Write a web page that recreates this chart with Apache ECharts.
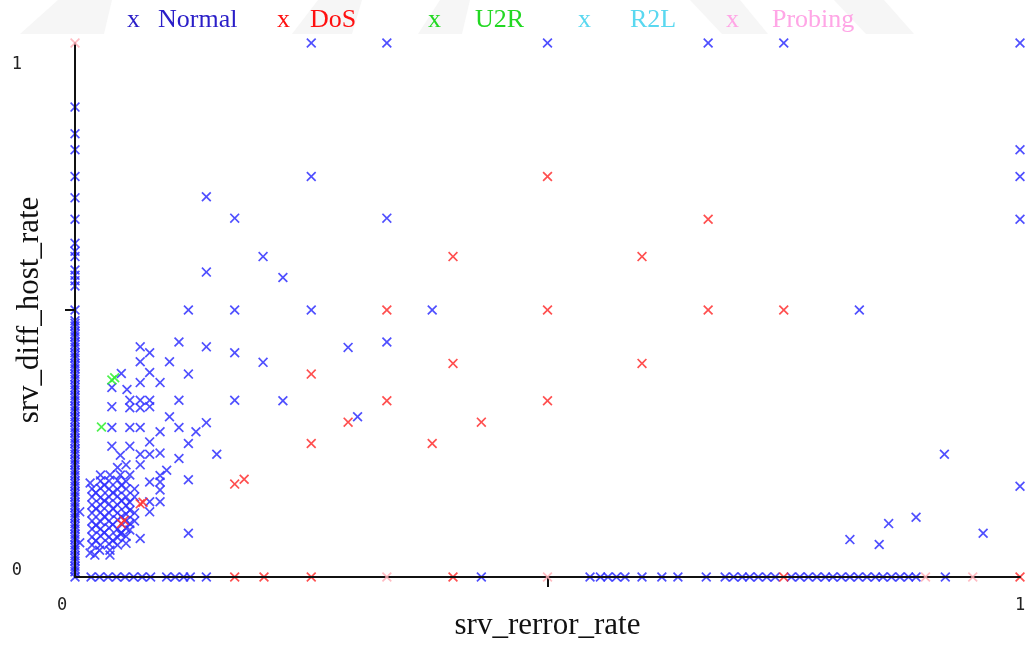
<!DOCTYPE html>
<html>
<head>
<meta charset="utf-8">
<script src="https://cdn.jsdelivr.net/npm/echarts@6/dist/echarts.min.js"></script>
<style>
  html, body { margin: 0; padding: 0; background: #fff; }
  #chart { width: 1034px; height: 645px; }
</style>
</head>
<body>
<div id="chart"></div>
<script>
// Class names, in legend order
const seriesNames = ['Normal', 'DoS', 'U2R', 'R2L', 'Probing'];

// Axis titles and tick labels
const xTitle = 'srv_rerror_rate';
const yTitle = 'srv_diff_host_rate';
const tickValues = [0, 1];
const tickLabels = ['0', '1'];
const tickMarks = [0.5];

// Normal: srv_diff_host_rate values of records with srv_rerror_rate = 0
const normalLeftEdgeY = [0.88, 0.83, 0.8, 0.75, 0.71, 0.67, 0.625, 0.61, 0.6, 0.575, 0.565, 0.555, 0.545, 0.5,
  0.48, 0.475, 0.47, 0.46, 0.455, 0.45, 0.44, 0.435, 0.43, 0.42, 0.415, 0.41, 0.4, 0.395, 0.39, 0.38, 0.375,
  0.37, 0.36, 0.355, 0.35, 0.34, 0.335, 0.33, 0.32, 0.315, 0.31, 0.3, 0.295, 0.29, 0.28, 0.275, 0.27, 0.26,
  0.255, 0.25, 0.24, 0.235, 0.23, 0.22, 0.215, 0.21, 0.2, 0.195, 0.19, 0.18, 0.175, 0.17, 0.16, 0.155, 0.15,
  0.14, 0.135, 0.13, 0.12, 0.115, 0.11, 0.1, 0.095, 0.09, 0.08, 0.075, 0.07, 0.06, 0.055, 0.05, 0.04, 0.035,
  0.03, 0.02, 0.015, 0.01, 0];

// Normal: srv_rerror_rate values of records with srv_diff_host_rate = 0
const normalBaseX = [0.017, 0.026, 0.035, 0.044, 0.053, 0.062, 0.071, 0.08, 0.097, 0.106, 0.115, 0.122, 0.139,
  0.43, 0.545, 0.556, 0.564, 0.573, 0.582, 0.6, 0.621, 0.638, 0.668,
  0.688, 0.697, 0.706, 0.714, 0.723, 0.732, 0.741, 0.758, 0.767, 0.776, 0.785, 0.794, 0.802, 0.811, 0.82,
  0.829, 0.838, 0.847, 0.855, 0.864, 0.873, 0.882, 0.89, 0.921];

// Normal: remaining records [srv_rerror_rate, srv_diff_host_rate]
const normalPoints = [
  [0.25, 1], [0.33, 1], [0.5, 1], [0.67, 1], [0.75, 1], [1, 1],
  [1, 0.8], [1, 0.75], [1, 0.67], [1, 0.17],
  [0.25, 0.75], [0.139, 0.712], [0.169, 0.672], [0.33, 0.672], [0.199, 0.6], [0.139, 0.571], [0.22, 0.561],
  [0.12, 0.5], [0.169, 0.5], [0.25, 0.5], [0.378, 0.5], [0.83, 0.5],
  [0.289, 0.43], [0.33, 0.44], [0.199, 0.402], [0.22, 0.33], [0.299, 0.3],
  [0.92, 0.23], [0.89, 0.112], [0.861, 0.1], [0.961, 0.082], [0.82, 0.07], [0.851, 0.061],
  [0.11, 0.44], [0.069, 0.431], [0.079, 0.42], [0.139, 0.431], [0.169, 0.42], [0.069, 0.403], [0.1, 0.403],
  [0.079, 0.383], [0.12, 0.38], [0.049, 0.381], [0.069, 0.364], [0.09, 0.364], [0.039, 0.355], [0.055, 0.351],
  [0.069, 0.331], [0.079, 0.331], [0.058, 0.331], [0.11, 0.331], [0.169, 0.331], [0.039, 0.319], [0.058, 0.317],
  [0.069, 0.317], [0.079, 0.319], [0.1, 0.3], [0.139, 0.289], [0.039, 0.28], [0.058, 0.28], [0.069, 0.28],
  [0.09, 0.272], [0.11, 0.28], [0.128, 0.272], [0.12, 0.25], [0.079, 0.253], [0.039, 0.245], [0.058, 0.245],
  [0.15, 0.23], [0.048, 0.228], [0.069, 0.23], [0.079, 0.23], [0.09, 0.232], [0.11, 0.222], [0.069, 0.21],
  [0.097, 0.2], [0.12, 0.182], [0.09, 0.19], [0.079, 0.178], [0.09, 0.178], [0.09, 0.163], [0.016, 0.176],
  [0.09, 0.141], [0.079, 0.141], [0.058, 0.125], [0.079, 0.122], [0.005, 0.122], [0.058, 0.088], [0.048, 0.081],
  [0.069, 0.072], [0.12, 0.082], [0.037, 0.05], [0.026, 0.05], [0.016, 0.045], [0.005, 0.064], [0.021, 0.041],
  [0.037, 0.041], [0.058, 0.191], [0.027, 0.191], [0.037, 0.191], [0.048, 0.191],
  [0.018, 0.06], [0.027, 0.06], [0.036, 0.062], [0.045, 0.06], [0.054, 0.063],
  [0.018, 0.075], [0.027, 0.077], [0.036, 0.075], [0.045, 0.074], [0.054, 0.076],
  [0.018, 0.09], [0.027, 0.09], [0.036, 0.092], [0.045, 0.09], [0.054, 0.091],
  [0.018, 0.105], [0.027, 0.104], [0.036, 0.105], [0.045, 0.107], [0.054, 0.105],
  [0.018, 0.12], [0.027, 0.121], [0.036, 0.12], [0.045, 0.12], [0.054, 0.118],
  [0.018, 0.135], [0.027, 0.135], [0.036, 0.137], [0.045, 0.135], [0.054, 0.134],
  [0.018, 0.15], [0.027, 0.149], [0.036, 0.15], [0.045, 0.151], [0.054, 0.15],
  [0.018, 0.165], [0.027, 0.166], [0.036, 0.165], [0.045, 0.164], [0.054, 0.165],
  [0.027, 0.18], [0.036, 0.18], [0.045, 0.181], [0.054, 0.179], [0.063, 0.165], [0.063, 0.15],
  [0.063, 0.105], [0.063, 0.12], [0.045, 0.205], [0.054, 0.21],
  [0.022, 0.068], [0.031, 0.083], [0.04, 0.098], [0.049, 0.113], [0.022, 0.128], [0.031, 0.143],
  [0.04, 0.158], [0.049, 0.172], [0.022, 0.097], [0.04, 0.128], [0.049, 0.143], [0.031, 0.113],
  [0.022, 0.158], [0.04, 0.068], [0.049, 0.083], [0.031, 0.172], [0.058, 0.1], [0.058, 0.14]
];

// DoS records [srv_rerror_rate, srv_diff_host_rate]
const dosPoints = [
  [0.5, 0.75], [0.67, 0.67], [0.4, 0.6], [0.6, 0.6], [0.33, 0.5], [0.5, 0.5], [0.67, 0.5], [0.75, 0.5],
  [0.25, 0.38], [0.4, 0.4], [0.6, 0.4], [0.33, 0.33], [0.5, 0.33], [0.289, 0.29], [0.43, 0.29],
  [0.25, 0.25], [0.378, 0.25], [0.169, 0.174], [0.179, 0.183], [0.069, 0.137], [0.072, 0.14],
  [0.049, 0.1], [0.052, 0.106],
  [0.169, 0], [0.2, 0], [0.25, 0], [0.4, 0], [0.75, 0], [1, 0]
];

// U2R records
const u2rPoints = [[0.039, 0.369], [0.042, 0.373], [0.028, 0.281]];

// R2L records (none in this range)
const r2lPoints = [];

// Probing records
const probingPoints = [[0, 1], [0.33, 0], [0.5, 0], [0.9, 0], [0.95, 0]];

const normalData = normalLeftEdgeY.map(y => [0, y])
  .concat(normalBaseX.map(x => [x, 0]))
  .concat(normalPoints);

const seriesData = [normalData, dosPoints, u2rPoints, r2lPoints, probingPoints];
const markerColors = ['#3030ff', '#ff3030', '#30ee30', '#5ad8f0', '#ffb0b8'];
const legendColors = ['#2a1ec8', '#ff1010', '#22d822', '#5ad8f0', '#ffa6e6'];

// "x" cross used as point marker
const crossSymbol = 'path://M0,1.2L1.2,0L5,3.8L8.8,0L10,1.2L6.2,5L10,8.8L8.8,10L5,6.2L1.2,10L0,8.8L3.8,5Z';

const chart = echarts.init(document.getElementById('chart'), null, { renderer: 'canvas' });

const monoFont = 'DejaVu Sans Mono';
const serifFont = 'Liberation Serif';

// legend row drawn as coloured text: "x" followed by class name
const legendX = [127, 277, 428, 578, 726];
const legendTextX = [158, 310, 475, 630, 772];
const legendGraphics = [];
seriesNames.forEach((name, i) => {
  legendGraphics.push({
    type: 'text', left: legendX[i], top: 7, z: 10,
    style: { text: 'x', fill: legendColors[i], font: '26px "' + serifFont + '"' }
  });
  legendGraphics.push({
    type: 'text', left: legendTextX[i], top: 7, z: 10,
    style: { text: name, fill: legendColors[i], font: '26px "' + serifFont + '"' }
  });
});

// faint background banner shapes along the top edge
const bannerShapes = [
  [[20, 34], [58, 0], [112, 0], [104, 34]],
  [[292, 34], [318, 0], [362, 0], [352, 34]],
  [[418, 34], [440, 0], [470, 0], [462, 34]],
  [[690, 0], [740, 0], [768, 34], [722, 34]],
  [[834, 0], [884, 0], [914, 34], [866, 34]]
];
const bannerGraphics = bannerShapes.map(pts => ({
  type: 'polygon', z: -1, shape: { points: pts }, style: { fill: '#f6f6f6' }
}));

const option = {
  animation: false,
  backgroundColor: '#fff',
  grid: { left: 75, right: 14, top: 43, bottom: 68, containLabel: false, outerBoundsMode: 'none' },
  xAxis: {
    type: 'value', min: 0, max: 1, interval: 0.5, z: 5,
    name: xTitle, nameLocation: 'middle', nameGap: 33, nameMoveOverlap: false,
    nameTextStyle: { fontFamily: serifFont, fontSize: 31, color: '#111' },
    axisLine: { show: true, onZero: false, lineStyle: { color: '#111', width: 2 } },
    axisTick: { show: true, customValues: tickMarks, length: 10, inside: false, lineStyle: { color: '#111', width: 2 } },
    axisLabel: {
      customValues: tickValues, margin: 20,
      formatter: v => (v === 0 ? '{lo|' : '{hi|') + tickLabels[tickValues.indexOf(v)] + '}',
      rich: {
        lo: { fontFamily: monoFont, fontSize: 17, color: '#222', padding: [0, 26, 0, 0] },
        hi: { fontFamily: monoFont, fontSize: 17, color: '#222' }
      }
    },
    splitLine: { show: false }
  },
  yAxis: {
    type: 'value', min: 0, max: 1, interval: 0.5, z: 5,
    name: yTitle, nameLocation: 'middle', nameGap: 30, nameRotate: 90, nameMoveOverlap: false,
    nameTextStyle: { fontFamily: serifFont, fontSize: 31, color: '#111' },
    axisLine: { show: true, onZero: false, lineStyle: { color: '#111', width: 2 } },
    axisTick: { show: true, customValues: tickMarks, length: 10, lineStyle: { color: '#111', width: 2 } },
    axisLabel: {
      customValues: tickValues, margin: 53,
      formatter: v => (v === 0 ? '{lo|' : '{hi|') + tickLabels[tickValues.indexOf(v)] + '}',
      rich: {
        lo: { fontFamily: monoFont, fontSize: 17, color: '#222', padding: [0, 0, 12, 0] },
        hi: { fontFamily: monoFont, fontSize: 17, color: '#222', padding: [43, 0, 0, 0] }
      }
    },
    splitLine: { show: false }
  },
  graphic: bannerGraphics.concat(legendGraphics),
  series: seriesNames.map((name, i) => ({
    name: name,
    type: 'scatter',
    data: seriesData[i],
    symbol: crossSymbol,
    symbolSize: 10,
    itemStyle: { color: markerColors[i], opacity: 0.85 },
    z: 2 + i
  }))
};

chart.setOption(option);
</script>
</body>
</html>
